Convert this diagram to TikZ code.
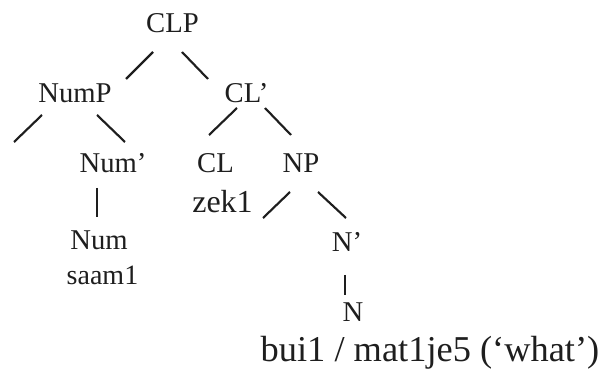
\documentclass[tikz,border=0pt]{standalone}
\usepackage{fontspec}
\setmainfont{Liberation Serif}
\usetikzlibrary{calc}
\definecolor{ink}{HTML}{1E1E1E}
\tikzset{
  cat/.style={anchor=base, inner sep=0pt, text=ink, font=\fontsize{21.5}{26}\selectfont},
  lex/.style={anchor=base, inner sep=0pt, text=ink, font=\fontsize{#1}{#1}\selectfont},
  branch/.style={draw=ink, line width=1.6pt}
}
\begin{document}
\begin{tikzpicture}[x=0.75pt, y=-0.75pt]
  \useasboundingbox (0,0) rectangle (604,374);
  % category labels
  \node[cat] (CLP)  at (172.5,33) {CLP};
  \node[cat] (NumP) at (75,103)   {NumP};
  \node[cat] (CLb)  at (246.5,103) {CL’};
  \node[cat] (Numb) at (113,173)  {Num’};
  \node[cat] (CL)   at (215.5,173) {CL};
  \node[cat] (NP)   at (301,173)  {NP};
  \node[cat] (Nb)   at (347,252)  {N’};
  \node[cat] (Num)  at (99,250)   {Num};
  \node[cat] (N)    at (353,322)  {N};
  % lexical items
  \node[lex=24] (zek)  at (222.5,213) {zek1};
  \node[lex=21] (saam) at (102.5,285) {saam1};
  \node[lex=27.3] (bui)  at (430,362) {bui1 / mat1je5 (‘what’)};
  % free ends of the empty specifier branches
  \coordinate (numpspec) at (14,142);
  \coordinate (npspec)   at (263,218);
  % branches
  \draw[branch] ($(CLP.base)+(-19.5,19)$) -- ($(NumP.base)+(51,-24)$);
  \draw[branch] ($(CLP.base)+(9.5,19)$)   -- ($(CLb.base)+(-38.5,-24)$);
  \draw[branch] ($(NumP.base)+(-33,12)$)  -- (numpspec);
  \draw[branch] ($(NumP.base)+(22,12)$)   -- ($(Numb.base)+(12,-31)$);
  \draw[branch] ($(CLb.base)+(-9.5,5)$)   -- ($(CL.base)+(-6.5,-38)$);
  \draw[branch] ($(CLb.base)+(18.5,5)$)   -- ($(NP.base)+(-10,-38)$);
  \draw[branch] ($(Numb.base)+(-16,15)$)  -- ($(Num.base)+(-2,-33)$);
  \draw[branch] ($(NP.base)+(-11,19)$)    -- (npspec);
  \draw[branch] ($(NP.base)+(17,19)$)     -- ($(Nb.base)+(-1,-34)$);
  \draw[branch] ($(Nb.base)+(-2,23)$)     -- ($(N.base)+(-8,-27)$);
\end{tikzpicture}
\end{document}
